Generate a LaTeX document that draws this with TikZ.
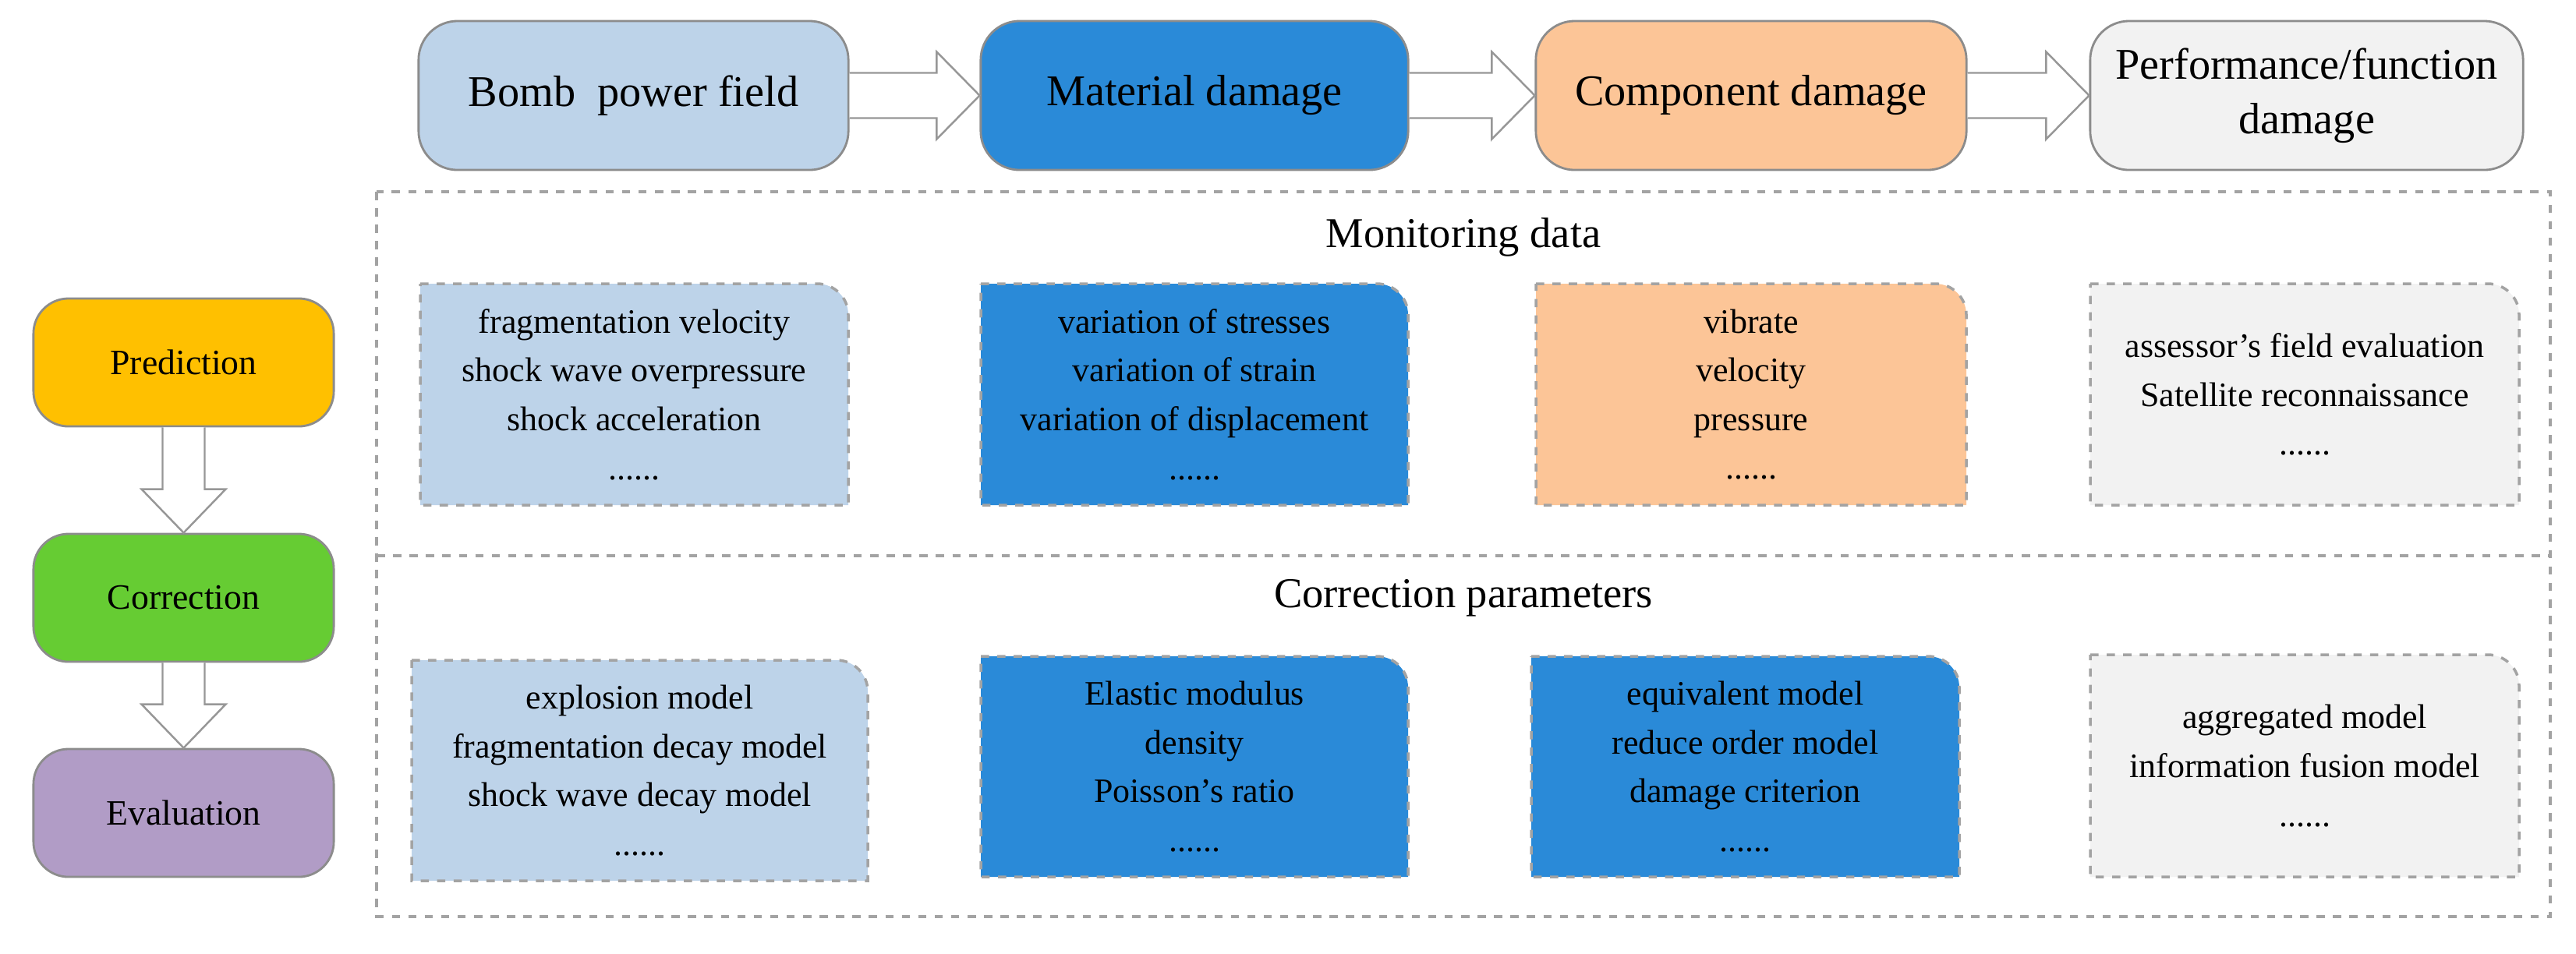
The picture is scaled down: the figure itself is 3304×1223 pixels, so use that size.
\documentclass[tikz,border=0pt]{standalone}
\usepackage{fontspec}
\setmainfont{Liberation Serif}
\usetikzlibrary{calc}
\definecolor{lblue}{HTML}{BDD3E9}
\definecolor{dblue}{HTML}{2A8AD8}
\definecolor{orng}{HTML}{FCC597}
\definecolor{lgrey}{HTML}{F2F2F2}
\definecolor{yel}{HTML}{FFC000}
\definecolor{grn}{HTML}{66CC33}
\definecolor{purp}{HTML}{B19CC6}
\definecolor{edge}{HTML}{8C8C8C}
\tikzset{
  px/.style={x=0.01cm,y=-0.01cm},
  top/.style={draw=edge,line width=0.8pt,rounded corners=0.5cm,inner sep=0pt,align=center,font=\fontsize{16}{20}\selectfont},
  side/.style={draw=edge,line width=0.8pt,rounded corners=0.45cm,inner sep=0pt,align=center,font=\fontsize{13}{16}\selectfont},
  dbox/.style={draw=edge!80,dashed,line width=1pt},
  btxt/.style={align=center,font=\fontsize{12.5}{17.8}\selectfont},
  frame/.style={draw=edge!80,dashed,line width=0.9pt},
  barrow/.style={draw=edge!90,fill=white,line width=0.7pt},
  title/.style={font=\fontsize{15.5}{18}\selectfont}
}
\newcommand\mkbox[7]{% name x1 y1 x2 y2 fill text
  \fill[#6] (#2,#3) -- (#4-40,#3) arc[start angle=90,end angle=0,x radius=40,y radius=-40] -- (#4,#5) -- (#2,#5) -- cycle;
  \draw[dbox] (#2,#3) -- (#4-40,#3) arc[start angle=90,end angle=0,x radius=40,y radius=-40] -- (#4,#5) -- (#2,#5) -- cycle;
  \node[btxt] (#1) at ({(#2+#4)/2},{(#3+#5)/2}) {#7};
}
\begin{document}
\begin{tikzpicture}[px]
\useasboundingbox (0,0) rectangle (3304,1223);
% top row
\node[top,fill=lblue,minimum width=5.51cm,minimum height=1.91cm] (bomb) at (812.5,122.5) {Bomb\ \ power field};
\node[top,fill=dblue,minimum width=5.48cm,minimum height=1.91cm] (mat) at (1532,122.5) {Material damage};
\node[top,fill=orng,minimum width=5.52cm,minimum height=1.91cm] (comp) at (2246,122.5) {Component damage};
\node[top,fill=lgrey,minimum width=5.55cm,minimum height=1.91cm] (perf) at (2958.5,122.5) {Performance/function\\damage};
\foreach \a/\b in {bomb/mat,mat/comp,comp/perf}{
  \draw[barrow] (\a.east) ++(0,-29) -- ($(\b.west)+(-55,-29)$) -- ($(\b.west)+(-55,-56)$) -- (\b.west)
     -- ($(\b.west)+(-55,56)$) -- ($(\b.west)+(-55,29)$) -- ($(\a.east)+(0,29)$);
}
% left column
\node[side,fill=yel,minimum width=3.85cm,minimum height=1.64cm] (pred) at (235.5,465) {Prediction};
\node[side,fill=grn,minimum width=3.85cm,minimum height=1.64cm] (corr) at (235.5,767) {Correction};
\node[side,fill=purp,minimum width=3.85cm,minimum height=1.64cm] (eval) at (235.5,1043) {Evaluation};
\foreach \a/\b in {pred/corr,corr/eval}{
  \draw[barrow] ($(\a.south)+(-27,0)$) -- ($(\b.north)+(-27,-56)$) -- ($(\b.north)+(-54,-56)$) -- (\b.north)
     -- ($(\b.north)+(54,-56)$) -- ($(\b.north)+(27,-56)$) -- ($(\a.south)+(27,0)$);
}
% frame
\coordinate (fl) at (483,713);
\coordinate (fr) at (3271,713);
\draw[frame] (483,246) rectangle (3271,1176);
\draw[frame] (fl) -- (fr);
\node[title] (mon) at (1877,304) {Monitoring data};
\node[title] (cpar) at (1877,767) {Correction parameters};
% monitoring boxes
\mkbox{m1}{539}{364}{1088}{648}{lblue}{fragmentation velocity\\shock wave overpressure\\shock acceleration\\......}
\mkbox{m2}{1258}{364}{1806}{648}{dblue}{variation of stresses\\variation of strain\\variation of displacement\\......}
\mkbox{m3}{1970}{364}{2522}{648}{orng}{vibrate\\velocity\\pressure\\......}
\mkbox{m4}{2681}{364}{3231}{648}{lgrey}{assessor's field evaluation\\Satellite reconnaissance\\......}
% parameter boxes
\mkbox{p1}{528}{847}{1113}{1130}{lblue}{explosion model\\fragmentation decay model\\shock wave decay model\\......}
\mkbox{p2}{1258}{842}{1806}{1125}{dblue}{Elastic modulus\\density\\Poisson's ratio\\......}
\mkbox{p3}{1964}{842}{2513}{1125}{dblue}{equivalent model\\reduce order model\\damage criterion\\......}
\mkbox{p4}{2681}{840}{3231}{1125}{lgrey}{aggregated model\\information fusion model\\......}
\end{tikzpicture}
\end{document}
